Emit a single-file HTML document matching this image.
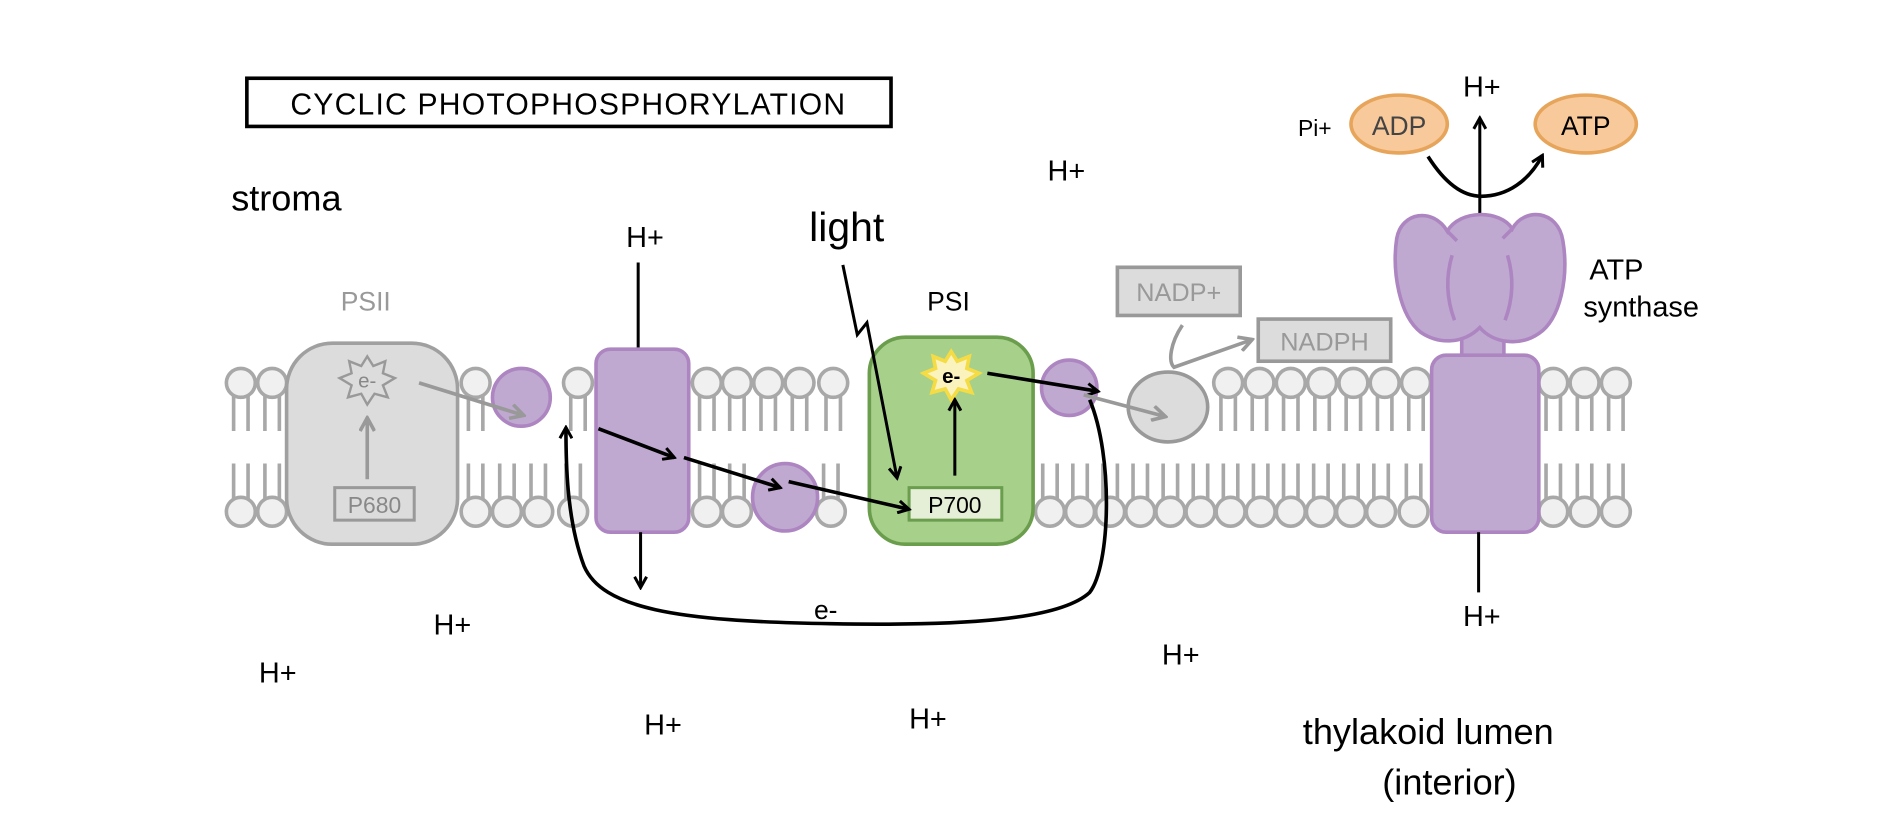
<!DOCTYPE html>
<html><head><meta charset="utf-8"><style>
html,body{margin:0;padding:0;background:#fff;}
svg{display:block;}
text{font-family:"Liberation Sans",sans-serif;}
</style></head><body>
<svg width="1888" height="832" viewBox="0 0 1568 691" xmlns="http://www.w3.org/2000/svg">
<defs>
<g id="lt"><path d="M-6 8 L-6 40 M6 8 L6 40" stroke="#a8a8a8" stroke-width="3" fill="none"/><circle cx="0" cy="0" r="12" fill="#f0f0f0" stroke="#a8a8a8" stroke-width="3"/></g>
<g id="lb"><path d="M-6 -8 L-6 -40 M6 -8 L6 -40" stroke="#a8a8a8" stroke-width="3" fill="none"/><circle cx="0" cy="0" r="12" fill="#f0f0f0" stroke="#a8a8a8" stroke-width="3"/></g>
<marker id="ab" markerWidth="12" markerHeight="12" refX="10" refY="6" orient="auto" markerUnits="userSpaceOnUse"><path d="M1 1 L10 6 L1 11" fill="none" stroke="#000" stroke-width="2.5"/></marker>
<marker id="ag" markerWidth="14" markerHeight="14" refX="12" refY="7" orient="auto" markerUnits="userSpaceOnUse"><path d="M1 1 L12 7 L1 13" fill="none" stroke="#999" stroke-width="3"/></marker>
</defs>

<!-- title -->
<rect x="205" y="65" width="535" height="40" fill="#fff" stroke="#000" stroke-width="3"/>
<text x="472" y="95" font-size="25" text-anchor="middle" letter-spacing="1">CYCLIC PHOTOPHOSPHORYLATION</text>
<text x="192" y="175" font-size="30">stroma</text>

<!-- lipids top -->
<g>
<use href="#lt" x="200" y="318"/><use href="#lt" x="226" y="318"/>
<use href="#lt" x="395" y="318"/><use href="#lt" x="480" y="318"/>
<use href="#lt" x="587" y="318"/><use href="#lt" x="612" y="318"/><use href="#lt" x="638" y="318"/><use href="#lt" x="664" y="318"/><use href="#lt" x="692" y="318"/>
<use href="#lt" x="1020" y="318"/><use href="#lt" x="1046" y="318"/><use href="#lt" x="1072" y="318"/><use href="#lt" x="1098" y="318"/><use href="#lt" x="1124" y="318"/><use href="#lt" x="1150" y="318"/><use href="#lt" x="1176" y="318"/>
<use href="#lt" x="1290" y="318"/><use href="#lt" x="1316" y="318"/><use href="#lt" x="1342" y="318"/>
</g>
<!-- lipids bottom -->
<g>
<use href="#lb" x="200" y="425"/><use href="#lb" x="226" y="425"/>
<use href="#lb" x="395" y="425"/><use href="#lb" x="421" y="425"/><use href="#lb" x="447" y="425"/><use href="#lb" x="476" y="425"/>
<use href="#lb" x="587" y="425"/><use href="#lb" x="612" y="425"/><use href="#lb" x="690" y="425"/>
<use href="#lb" x="872" y="425"/><use href="#lb" x="897" y="425"/><use href="#lb" x="922" y="425"/><use href="#lb" x="947" y="425"/><use href="#lb" x="972" y="425"/><use href="#lb" x="997" y="425"/><use href="#lb" x="1022" y="425"/><use href="#lb" x="1047" y="425"/><use href="#lb" x="1072" y="425"/><use href="#lb" x="1097" y="425"/><use href="#lb" x="1122" y="425"/><use href="#lb" x="1147" y="425"/><use href="#lb" x="1174" y="425"/>
<use href="#lb" x="1290" y="425"/><use href="#lb" x="1316" y="425"/><use href="#lb" x="1342" y="425"/>
</g>

<!-- PSII -->
<text x="283" y="258" font-size="22" fill="#999">PSII</text>
<rect x="238" y="285" width="142" height="167" rx="38" fill="#dcdcdc" stroke="#a0a0a0" stroke-width="3"/>
<polygon points="305,296 310,304 320,300 318,310 328,314 318,320 322,330 311,327 305,336 300,327 289,330 292,320 282,314 292,310 290,300 300,304" fill="#dcdcdc" stroke="#999" stroke-width="2"/>
<text x="305" y="322" font-size="17" fill="#888" text-anchor="middle">e-</text>
<path d="M305 398 L305 347" stroke="#999" stroke-width="3" marker-end="url(#ag)"/>
<rect x="278" y="405" width="66" height="27" fill="#dcdcdc" stroke="#999" stroke-width="2.5"/>
<text x="311" y="426" font-size="19" fill="#888" text-anchor="middle">P680</text>

<circle cx="433" cy="330" r="24" fill="#bfa9d1" stroke="#ad86c1" stroke-width="3"/>
<path d="M348 318 L435 345" stroke="#999" stroke-width="3" marker-end="url(#ag)"/>

<!-- cytochrome -->
<path d="M530 218 L530 290" stroke="#000" stroke-width="2.5"/>
<text x="520" y="205" font-size="24">H+</text>
<rect x="495" y="290" width="77" height="152" rx="12" fill="#bfa9d1" stroke="#ad86c1" stroke-width="3"/>
<path d="M532 442 L532 488" stroke="#000" stroke-width="2.5" marker-end="url(#ab)"/>
<ellipse cx="652" cy="413" rx="27" ry="28" fill="#bfa9d1" stroke="#ad86c1" stroke-width="3"/>

<!-- PSI -->
<text x="770" y="258" font-size="22">PSI</text>
<rect x="722" y="280" width="136" height="172" rx="30" fill="#a7d08b" stroke="#6a9e4c" stroke-width="3"/>
<polygon points="790,292 795,300 805,296 803,306 813,310 803,316 807,326 796,323 790,332 785,323 774,326 777,316 767,310 777,306 775,296 785,300" fill="#fbf3bd" stroke="#f5dc45" stroke-width="3"/>
<text x="790" y="318" font-size="17" text-anchor="middle" font-weight="bold">e-</text>
<path d="M793 395 L793 332" stroke="#000" stroke-width="2.5" marker-end="url(#ab)"/>
<rect x="755" y="405" width="77" height="27" fill="#e5efd8" stroke="#6a9e4c" stroke-width="2.5"/>
<text x="793" y="426" font-size="19" text-anchor="middle">P700</text>
<text x="672" y="200" font-size="34">light</text>
<path d="M700 220 L712 278 L720 268 L745 397" stroke="#000" stroke-width="2.5" fill="none" marker-end="url(#ab)"/>

<circle cx="888" cy="322" r="23" fill="#bfa9d1" stroke="#ad86c1" stroke-width="3"/>
<!-- electron arrows -->
<path d="M497 356 L560 380" stroke="#000" stroke-width="3" marker-end="url(#ab)"/>
<path d="M568 380 L648 405" stroke="#000" stroke-width="3" marker-end="url(#ab)"/>
<path d="M655 400 L755 423" stroke="#000" stroke-width="3" marker-end="url(#ab)"/>
<path d="M820 310 L912 325" stroke="#000" stroke-width="3" marker-end="url(#ab)"/>
<path d="M905 332 C925 380 922 470 905 492 C880 515 800 520 690 518 C560 516 500 505 485 470 C470 430 470 380 470 355" stroke="#000" stroke-width="3" fill="none" marker-end="url(#ab)"/>
<text x="676" y="514" font-size="22">e-</text>

<!-- FNR -->
<ellipse cx="970" cy="338" rx="33" ry="29" fill="#dcdcdc" stroke="#999" stroke-width="3"/>
<path d="M900 328 L968 346" stroke="#999" stroke-width="3" marker-end="url(#ag)"/>
<rect x="928" y="222" width="102" height="40" fill="#dcdcdc" stroke="#999" stroke-width="3"/>
<text x="979" y="250" font-size="21" fill="#999" text-anchor="middle">NADP+</text>
<rect x="1045" y="265" width="110" height="35" fill="#dcdcdc" stroke="#999" stroke-width="3"/>
<text x="1100" y="291" font-size="21" fill="#999" text-anchor="middle">NADPH</text>
<path d="M982 270 C972 285 970 300 975 305 L1040 282" stroke="#999" stroke-width="3" fill="none" marker-end="url(#ag)"/>

<!-- ATP synthase -->
<path d="M1229 178 L1229 98" stroke="#000" stroke-width="2.5" marker-end="url(#ab)"/>
<text x="1215" y="80" font-size="24">H+</text>
<rect x="1214" y="268" width="35" height="40" fill="#bfa9d1" stroke="#ad86c1" stroke-width="3"/>
<path d="M1229 272 C1215 286 1195 286 1180 276 C1162 262 1156 225 1160 198 C1164 176 1190 172 1202 192 C1212 174 1246 174 1256 190 C1266 172 1294 174 1298 200 C1303 230 1296 265 1278 277 C1262 288 1240 285 1229 272 Z" fill="#bfa9d1" stroke="#ad86c1" stroke-width="3"/>
<path d="M1202 192 L1210 200 M1256 190 L1248 198" stroke="#ad86c1" stroke-width="3" fill="none"/>
<path d="M1206 212 C1200 232 1202 250 1208 266 M1252 212 C1258 232 1256 250 1250 266" stroke="#ad86c1" stroke-width="3" fill="none"/>
<rect x="1189" y="295" width="89" height="147" rx="12" fill="#bfa9d1" stroke="#ad86c1" stroke-width="3"/>
<path d="M1228 442 L1228 492" stroke="#000" stroke-width="2.5"/>
<text x="1215" y="520" font-size="24">H+</text>
<text x="1320" y="232" font-size="24">ATP</text>
<text x="1315" y="263" font-size="24">synthase</text>
<ellipse cx="1162" cy="103" rx="40" ry="24" fill="#f8c99a" stroke="#e6a55b" stroke-width="3"/>
<text x="1162" y="112" font-size="22" fill="#444" text-anchor="middle">ADP</text>
<text x="1078" y="113" font-size="19">Pi+</text>
<ellipse cx="1317" cy="103" rx="42" ry="24" fill="#f8c99a" stroke="#e6a55b" stroke-width="3"/>
<text x="1317" y="112" font-size="22" text-anchor="middle">ATP</text>
<path d="M1186 130 C1200 152 1215 163 1230 163 C1252 163 1270 150 1281 129" stroke="#000" stroke-width="3" fill="none" marker-end="url(#ab)"/>

<!-- H+ scattered -->
<g font-size="24">
<text x="870" y="150">H+</text>
<text x="360" y="527">H+</text>
<text x="215" y="567">H+</text>
<text x="535" y="610">H+</text>
<text x="755" y="605">H+</text>
<text x="965" y="552">H+</text>
</g>
<text x="1082" y="618" font-size="30">thylakoid lumen</text>
<text x="1148" y="660" font-size="30">(interior)</text>
</svg>
</body></html>
